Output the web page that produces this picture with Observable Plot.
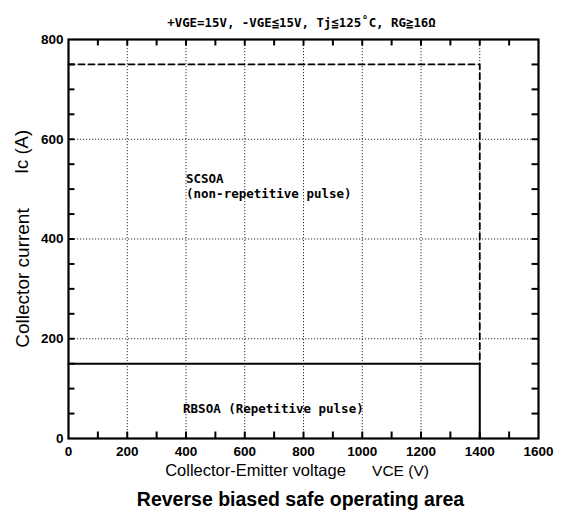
<!DOCTYPE html>
<html>
<head>
<meta charset="utf-8">
<script src="https://cdn.jsdelivr.net/npm/d3@7"></script>
<script src="https://cdn.jsdelivr.net/npm/@observablehq/plot@0.6"></script>
<style>
  html, body { margin: 0; padding: 0; background: #fff; }
</style>
</head>
<body>
<div id="chart"></div>
<script>
// ---- data ----
const titleText = "+VGE=15V, -VGE\u226615V, Tj\u2266125\u02DAC, RG\u226716\u03A9";
const xLabelMain = "Collector-Emitter voltage";
const xLabelSym = "VCE (V)";
const yLabelMain = "Collector current";
const yLabelSym = "Ic (A)";
const caption = "Reverse biased safe operating area";

const xTicks = [0, 200, 400, 600, 800, 1000, 1200, 1400, 1600];
const yTicks = [0, 200, 400, 600, 800];

// SCSOA (non-repetitive) boundary
const scsoaV = [0, 1400, 1400];
const scsoaI = [750, 750, 150];
// RBSOA (repetitive) boundary
const rbsoaV = [0, 1400, 1400];
const rbsoaI = [150, 150, 0];

const scNotes = ["SCSOA", "(non-repetitive pulse)"];
const scNoteV = [400, 400];
const scNoteI = [520, 490];
const rbNotes = ["RBSOA (Repetitive pulse)"];
const rbNoteV = [390];
const rbNoteI = [60];

// ---- build ----
const scsoa = scsoaV.map((v, i) => ({v, i: scsoaI[i]}));
const rbsoa = rbsoaV.map((v, i) => ({v, i: rbsoaI[i]}));
const scRows = scNotes.map((t, k) => ({t, v: scNoteV[k], i: scNoteI[k]}));
const rbRows = rbNotes.map((t, k) => ({t, v: rbNoteV[k], i: rbNoteI[k]}));

const xMinor = d3.range(100, 1600, 100);
const yMinor = d3.range(50, 800, 50);
const tickRowsBottom = xMinor.map(v => ({v, a: 0, b: 13}));
const tickRowsTop = xMinor.map(v => ({v, a: 787, b: 800}));
const tickRowsLeft = yMinor.map(i => ({i, a: 0, b: 22}));
const tickRowsRight = yMinor.map(i => ({i, a: 1578, b: 1600}));
const mono = "'DejaVu Sans Mono', 'Liberation Mono', monospace";

const chart = Plot.plot({
  width: 562,
  height: 517,
  marginLeft: 68,
  marginRight: 24,
  marginTop: 39,
  marginBottom: 79,
  style: {fontFamily: "'Liberation Sans', Arial, sans-serif", background: "#fff", color: "#000"},
  x: {domain: [0, 1600]},
  y: {domain: [0, 800]},
  marks: [
    Plot.gridX(xTicks.slice(1, -1), {stroke: "#000", strokeOpacity: 0.9, strokeDasharray: "1.2,1.8", strokeWidth: 0.9}),
    Plot.gridY(yTicks.slice(1, -1), {stroke: "#000", strokeOpacity: 0.9, strokeDasharray: "1.2,1.8", strokeWidth: 0.9}),
    // inward minor ticks
    Plot.ruleX(tickRowsBottom, {x: "v", y1: "a", y2: "b", stroke: "#000", strokeWidth: 2}),
    Plot.ruleX(tickRowsTop, {x: "v", y1: "a", y2: "b", stroke: "#000", strokeWidth: 2}),
    Plot.ruleY(tickRowsLeft, {y: "i", x1: "a", x2: "b", stroke: "#000", strokeWidth: 2}),
    Plot.ruleY(tickRowsRight, {y: "i", x1: "a", x2: "b", stroke: "#000", strokeWidth: 2}),
    Plot.line(scsoa, {x: "v", y: "i", stroke: "#000", strokeWidth: 1.8, strokeDasharray: "6,4"}),
    Plot.line(rbsoa, {x: "v", y: "i", stroke: "#000", strokeWidth: 2}),
    Plot.frame({stroke: "#000", strokeWidth: 2.2}),
    Plot.axisX(xTicks, {tickSize: 0, tickPadding: 8, label: null, tickFormat: d => String(d), fontSize: 13.5, fontWeight: "bold"}),
    Plot.axisY(yTicks, {tickSize: 0, tickPadding: 5, label: null, tickFormat: d => String(d), fontSize: 13.5, fontWeight: "bold"}),
    Plot.text(scRows, {x: "v", y: "i", text: "t", textAnchor: "start", fontFamily: mono, fontWeight: "bold", fontSize: 12.5, fill: "#000"}),
    Plot.text(rbRows, {x: "v", y: "i", text: "t", textAnchor: "start", fontFamily: mono, fontWeight: "bold", fontSize: 12.5, fill: "#000"}),
    Plot.text([titleText], {frameAnchor: "top", dy: -21, dx: -2, fontFamily: mono, fontWeight: "bold", fontSize: 12.4, fill: "#000"}),
    Plot.text([xLabelMain], {frameAnchor: "bottom", textAnchor: "middle", dy: 37, dx: -48, fontSize: 16.5, fill: "#000"}),
    Plot.text([xLabelSym], {frameAnchor: "bottom", textAnchor: "middle", dy: 37, dx: 97, fontSize: 15.5, fill: "#000"}),
    Plot.text([caption], {frameAnchor: "bottom", textAnchor: "middle", dy: 67, dx: -3, fontSize: 19.5, fontWeight: "bold", fill: "#000"}),
    Plot.text([yLabelMain], {frameAnchor: "left", textAnchor: "middle", dx: -46, dy: 39, rotate: -90, fontSize: 19, fill: "#000"}),
    Plot.text([yLabelSym], {frameAnchor: "left", textAnchor: "middle", dx: -46, dy: -87, rotate: -90, fontSize: 18.5, fill: "#000"})
  ]
});
document.getElementById("chart").appendChild(chart);
</script>
</body>
</html>
